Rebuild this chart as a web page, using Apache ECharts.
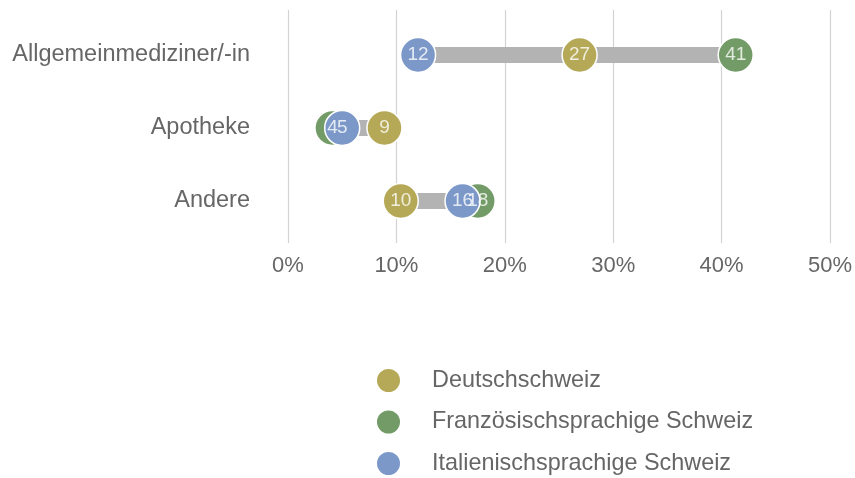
<!DOCTYPE html>
<html>
<head>
<meta charset="utf-8">
<script src="https://cdn.jsdelivr.net/npm/echarts@6/dist/echarts.min.js"></script>
<style>
  html, body { margin: 0; padding: 0; background: #fff; }
  #chart { width: 855px; height: 478px; }
</style>
</head>
<body>
<div id="chart"></div>
<script>
// categories top to bottom
var categories = ['Allgemeinmediziner/-in', 'Apotheke', 'Andere'];
var seriesNames = ['Deutschschweiz', 'Französischsprachige Schweiz', 'Italienischsprachige Schweiz'];
// values in %
var deutsch = [26.9, 8.9, 10.4];
var franz = [41.3, 4.1, 17.5];
var ital = [12.0, 5.0, 16.1];
var xTicks = [0, 10, 20, 30, 40, 50];

var colors = ['#b5a957', '#739b67', '#7b98c9'];
var font = '"Liberation Sans", Arial, Helvetica, sans-serif';

var lows = [], spans = [];
for (var i = 0; i < categories.length; i++) {
    var lo = Math.min(deutsch[i], franz[i], ital[i]);
    var hi = Math.max(deutsch[i], franz[i], ital[i]);
    lows.push(lo);
    spans.push(hi - lo);
}

function toPoints(vals) {
    return vals.map(function (v, i) { return [v, categories[i]]; });
}

function dots(name, vals, color, z) {
    return {
        name: name,
        type: 'scatter',
        xAxisIndex: 1, yAxisIndex: 1,
        symbol: 'circle',
        symbolSize: 35,
        z: z,
        itemStyle: { color: color, borderColor: '#fff', borderWidth: 1.5, opacity: 1 },
        label: { show: false },
        emphasis: { disabled: true },
        data: toPoints(vals)
    };
}

// labels drawn above all circles, like the original
function labels(vals) {
    return {
        type: 'scatter',
        xAxisIndex: 1, yAxisIndex: 1,
        symbolSize: 35, z: 10, silent: true,
        itemStyle: { color: 'rgba(0,0,0,0)', borderWidth: 0 },
        label: {
            show: true, position: 'inside', color: '#fff',
            textBorderWidth: 0, textShadowBlur: 0,
            fontSize: 19, fontFamily: font,
            formatter: function (p) { return Math.round(p.value[0]); }
        },
        emphasis: { disabled: true },
        data: toPoints(vals)
    };
}

var chart = echarts.init(document.getElementById('chart'));
var option = {
    animation: false,
    legend: {
        orient: 'vertical',
        left: 370, top: 362,
        height: 120,
        itemWidth: 25, itemHeight: 25,
        itemGap: 14.5,
        icon: 'circle',
        data: seriesNames,
        textStyle: { color: '#666', fontSize: 23.4, fontFamily: font, padding: [0, 0, 0, 26] }
    },
    grid: [
        { left: 288, right: 25, top: 10, height: 233 },
        { left: 288, right: 25, top: 18.5, height: 219 }
    ],
    xAxis: [
        {
            gridIndex: 0, type: 'value', min: 0, max: 50, interval: 10,
            axisLine: { show: false }, axisTick: { show: false },
            splitLine: { lineStyle: { color: '#d3d3d3', width: 1.2 } },
            axisLabel: { color: '#666', fontSize: 22, fontFamily: font, margin: 12,
                formatter: function (v) { return xTicks.indexOf(v) >= 0 ? v + '%' : ''; } }
        },
        {
            gridIndex: 1, type: 'value', min: 0, max: 50, interval: 10,
            show: false, splitLine: { show: false }
        }
    ],
    yAxis: [
        { gridIndex: 0, type: 'value', show: false, splitLine: { show: false } },
        {
            gridIndex: 1, type: 'category', inverse: true, data: categories,
            axisLine: { show: false }, axisTick: { show: false }, splitLine: { show: false },
            axisLabel: { color: '#666', fontSize: 23.5, fontFamily: font, margin: 38 }
        }
    ],
    series: [
        {
            type: 'bar', stack: 'range', xAxisIndex: 1, yAxisIndex: 1,
            barWidth: 16, itemStyle: { color: '#fff', opacity: 0 },
            silent: true, data: lows
        },
        {
            type: 'bar', stack: 'range', xAxisIndex: 1, yAxisIndex: 1,
            barWidth: 16, itemStyle: { color: '#b3b3b3' },
            silent: true, data: spans
        },
        dots(seriesNames[1], franz, colors[1], 3),
        dots(seriesNames[2], ital, colors[2], 4),
        dots(seriesNames[0], deutsch, colors[0], 5),
        labels(franz),
        labels(ital),
        labels(deutsch)
    ]
};
chart.setOption(option);
</script>
</body>
</html>
